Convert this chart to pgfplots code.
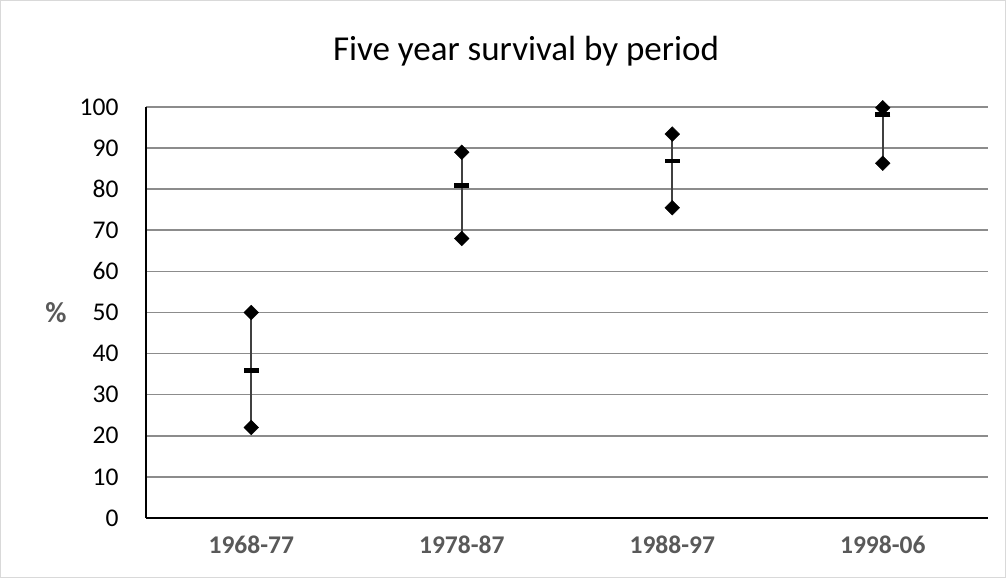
\documentclass[border=0pt]{standalone}
\usepackage{pgfplots}
\pgfplotsset{compat=1.18}
\usepackage{fontspec}
\setmainfont{Carlito}
\definecolor{gridc}{HTML}{8C8C8C}
\definecolor{labc}{HTML}{595959}
\definecolor{linec}{HTML}{404040}
\begin{document}
\begin{tikzpicture}[x=1pt,y=1pt]
\path[use as bounding box] (0,0) rectangle (1006,578);
\draw[color=black!15, line width=1pt] (0.5,0.5) rectangle (1005.5,577.5);
\node[font=\fontsize{35}{42}\selectfont, anchor=center] at (526,527) {Five year survival by period};
\begin{axis}[
  at={(146pt,60pt)}, anchor=south west,
  width=842pt, height=411pt, scale only axis,
  xmin=-0.5, xmax=3.5, ymin=0, ymax=100,
  xtick={0,1,2,3},
  xticklabels={1968-77,1978-87,1988-97,1998-06},
  ytick={0,10,...,100},
  ymajorgrids, grid style={gridc, line width=1.6pt},
  axis x line*=bottom, axis y line*=left,
  axis line style={black, line width=2pt, -},
  major tick length=0pt,
  /pgf/number format/assume math mode=true,
  y tick label style={font=\fontsize{25.5}{30}\selectfont, anchor=east, xshift=-24pt},
  x tick label style={font=\fontsize{25.5}{30}\selectfont\bfseries, text=labc, yshift=-14pt},
  ylabel={\%}, ylabel style={rotate=-90, font=\fontsize{29}{32}\selectfont\bfseries, text=labc, at={(axis description cs:0,0.5)}, anchor=center, xshift=-90pt},
  clip=false,
]
\addplot[linec, line width=1.8pt, mark=none] coordinates {(0,22) (0,50)};
\addplot[linec, line width=1.8pt, mark=none] coordinates {(1,68) (1,89)};
\addplot[linec, line width=1.8pt, mark=none] coordinates {(2,75.5) (2,93.4)};
\addplot[linec, line width=1.8pt, mark=none] coordinates {(3,86.3) (3,99.8)};
% high
\addplot[only marks, mark=square*, mark size=5.2pt, black, mark options={rotate=45}] coordinates {(0,50) (1,89) (2,93.4) (3,99.8)};
% low
\addplot[only marks, mark=square*, mark size=5.2pt, black, mark options={rotate=45}] coordinates {(0,22) (1,68) (2,75.5) (3,86.3)};
% close
\addplot[only marks, mark=-, mark size=7.5pt, black, mark options={line width=4.5pt}] coordinates {(0,35.9) (1,80.9) (2,86.9) (3,98.2)};
\end{axis}
\end{tikzpicture}
\end{document}
